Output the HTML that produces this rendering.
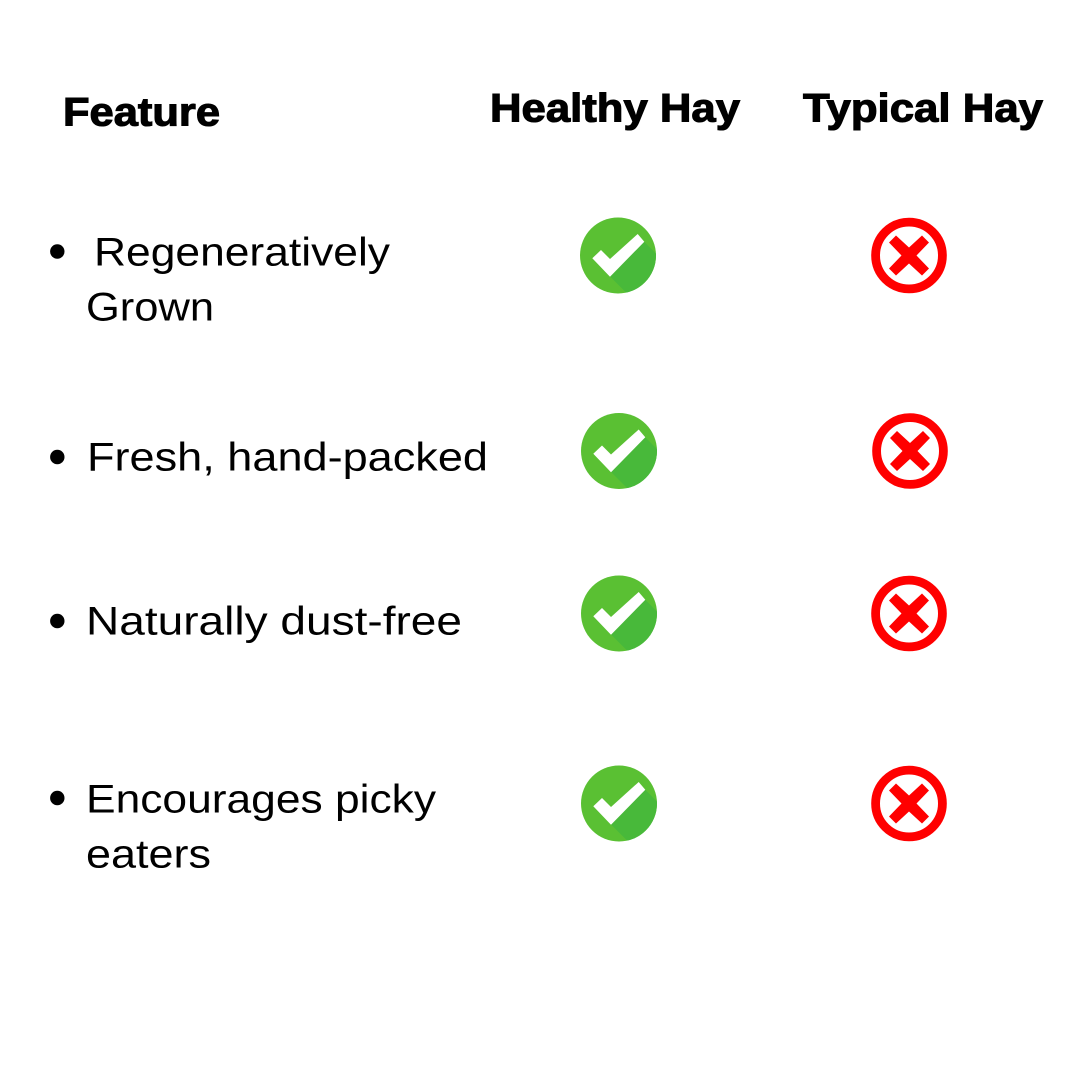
<!DOCTYPE html>
<html>
<head>
<meta charset="utf-8">
<style>
html,body{margin:0;padding:0;background:#fff;width:1080px;height:1080px;overflow:hidden}
svg{display:block}
text{font-family:"Liberation Sans",sans-serif;fill:#000}
.h{font-weight:700;font-size:40px;stroke:#000;stroke-width:1.1px}
.b{font-size:40px}
</style>
</head>
<body>
<svg width="1080" height="1080" viewBox="0 0 1080 1080" xmlns="http://www.w3.org/2000/svg">
<defs>
<clipPath id="c"><circle cx="0" cy="0" r="38"/></clipPath>
<g id="ok">
<circle cx="0" cy="0" r="38" fill="#5AC033"/>
<polygon clip-path="url(#c)" points="26,-14 44,4 44,44 15,44 -8,21" fill="#48B93A"/>
<polygon points="-25.7,2.8 -17,-5.5 -8,3.5 19.7,-21.5 26.3,-13.8 -8,21.2" fill="#fff"/>
</g>
<g id="no">
<circle cx="0" cy="0" r="33.4" fill="none" stroke="#FF0000" stroke-width="8.8"/>
<polygon points="-20,-13 -13,-20 0,-8 13,-20 20,-13 7.5,0 20,13 13,20 0,8 -13,20 -20,13 -7.5,0" fill="#FF0000"/>
</g>
</defs>

<text class="h" x="63" y="125.5" textLength="157" lengthAdjust="spacingAndGlyphs">Feature</text>
<text class="h" x="490" y="121.5" textLength="250" lengthAdjust="spacingAndGlyphs">Healthy Hay</text>
<text class="h" x="803" y="121.5" textLength="240" lengthAdjust="spacingAndGlyphs">Typical Hay</text>

<circle cx="57.3" cy="251.5" r="7.2" fill="#000"/>
<circle cx="57.3" cy="457" r="7.2" fill="#000"/>
<circle cx="57.3" cy="621" r="7.2" fill="#000"/>
<circle cx="57.3" cy="798" r="7.2" fill="#000"/>

<text class="b" x="94" y="265.5" textLength="296" lengthAdjust="spacingAndGlyphs">Regeneratively</text>
<text class="b" x="86" y="320.5" textLength="128" lengthAdjust="spacingAndGlyphs">Grown</text>
<text class="b" x="87" y="470.5" textLength="401" lengthAdjust="spacingAndGlyphs">Fresh, hand-packed</text>
<text class="b" x="86" y="634.5" textLength="376" lengthAdjust="spacingAndGlyphs">Naturally dust-free</text>
<text class="b" x="86" y="812.5" textLength="350" lengthAdjust="spacingAndGlyphs">Encourages picky</text>
<text class="b" x="86" y="867.5" textLength="125" lengthAdjust="spacingAndGlyphs">eaters</text>

<use href="#ok" transform="translate(618,255.5)"/>
<use href="#ok" transform="translate(619,451)"/>
<use href="#ok" transform="translate(619,613.5)"/>
<use href="#ok" transform="translate(619,803.5)"/>

<use href="#no" transform="translate(909,255.5)"/>
<use href="#no" transform="translate(910,451)"/>
<use href="#no" transform="translate(909,613.5)"/>
<use href="#no" transform="translate(909,803.5)"/>
</svg>
</body>
</html>
